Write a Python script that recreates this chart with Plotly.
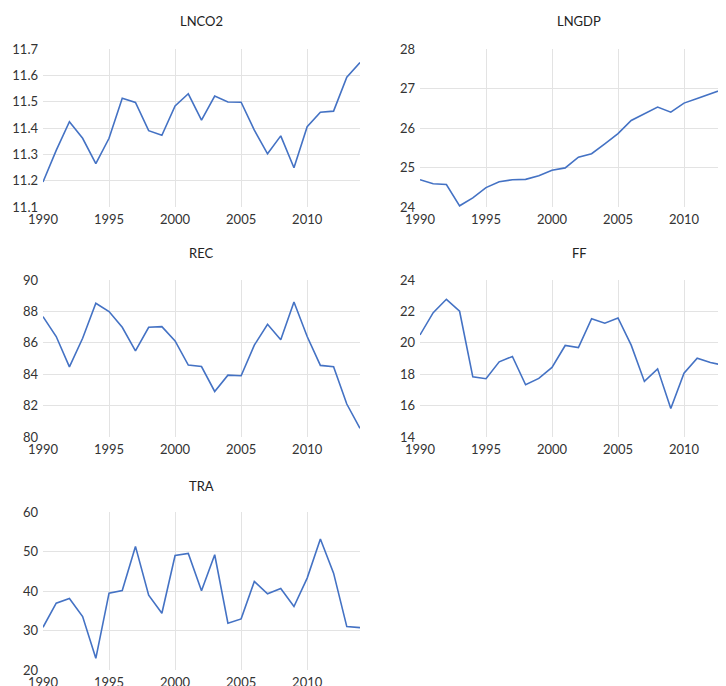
import plotly.graph_objects as go

years = list(range(1990, 2015))

lnco2 = [11.195, 11.315, 11.424, 11.361, 11.265, 11.361, 11.513, 11.497, 11.390, 11.372,
         11.484, 11.530, 11.430, 11.521, 11.499, 11.498, 11.392, 11.302, 11.370, 11.249,
         11.405, 11.460, 11.464, 11.593, 11.649]
lngdp = [24.69, 24.59, 24.57, 24.03, 24.23, 24.49, 24.64, 24.69, 24.70, 24.79,
         24.93, 24.99, 25.26, 25.35, 25.60, 25.86, 26.19, 26.35, 26.53, 26.40,
         26.63, 26.75, 26.86, 26.98, 27.10]
rec = [87.67, 86.40, 84.47, 86.29, 88.52, 87.99, 86.99, 85.49, 86.99, 87.03,
       86.12, 84.58, 84.49, 82.90, 83.94, 83.90, 85.85, 87.18, 86.19, 88.60,
       86.40, 84.56, 84.47, 82.10, 80.55]
ff = [20.50, 21.92, 22.77, 22.01, 17.83, 17.71, 18.79, 19.13, 17.33, 17.73,
      18.43, 19.83, 19.70, 21.54, 21.25, 21.58, 19.85, 17.54, 18.34, 15.82,
      18.07, 19.02, 18.75, 18.56, 18.60]
tra = [30.82, 36.91, 38.10, 33.53, 22.96, 39.45, 40.13, 51.29, 38.94, 34.38,
       49.00, 49.51, 40.04, 49.18, 31.84, 32.94, 42.41, 39.28, 40.63, 36.07,
       43.26, 53.15, 44.52, 30.99, 30.74]

titles = ["LNCO2", "LNGDP", "REC", "FF", "TRA"]
series = [lnco2, lngdp, rec, ff, tra]
y_ranges = [(11.1, 11.7, 0.1), (24, 28, 1), (80, 90, 2), (14, 24, 2), (20, 60, 10)]
x_ticks = [1990, 1995, 2000, 2005, 2010]

# page body has an 8px default margin; lay out in page pixels minus that offset
OFF = 8
W, H = 726 - OFF, 686 - OFF


def fx(px):
    return (px - OFF) / W


def fy(py):
    return 1 - (py - OFF) / H


left_x = (fx(43), fx(360))
right_x = (fx(420), 1.0)
rows_y = [(fy(207), fy(49)), (fy(437), fy(280)), (fy(670), fy(512))]
domains = [(left_x, rows_y[0]), (right_x, rows_y[0]), (left_x, rows_y[1]),
           (right_x, rows_y[1]), (left_x, rows_y[2])]
x_end = [2014, 1990 + (726 - 420) / 13.2, 2014, 1990 + (726 - 420) / 13.2, 2014]
title_pos = [(201, 21), (579, 21), (201, 253), (579, 253), (201, 486)]

FONT = "Lato"
LINE = "#4472C4"
GRID = "#E3E3E3"
TXT = "#333333"

fig = go.Figure()
layout = dict(
    template="none",
    width=W, height=H,
    margin=dict(l=0, r=0, t=0, b=0, pad=0),
    paper_bgcolor="white", plot_bgcolor="white",
    showlegend=False,
    font=dict(family=FONT, size=12, color=TXT),
    annotations=[],
)

for i, (name, vals) in enumerate(zip(titles, series)):
    n = i + 1
    xa = "x" if n == 1 else f"x{n}"
    ya = "y" if n == 1 else f"y{n}"
    fig.add_trace(go.Scatter(x=years, y=vals, mode="lines", xaxis=xa, yaxis=ya,
                             line=dict(color=LINE, width=1.6), cliponaxis=True))
    (xd, yd) = domains[i]
    lo, hi, step = y_ranges[i]
    nt = int(round((hi - lo) / step))
    yt = [round(lo + k * step, 2) for k in range(nt + 1)]
    ytxt = [f"{v:.1f}" if step < 1 else f"{int(v)}" for v in yt]
    layout["xaxis" if n == 1 else f"xaxis{n}"] = dict(
        domain=list(xd), anchor=ya, range=[1990, x_end[i]], automargin=False,
        tickmode="array", tickvals=x_ticks, ticktext=[str(t) for t in x_ticks],
        showgrid=True, gridcolor=GRID, gridwidth=1, zeroline=False, showline=False,
        ticks="", ticklabelstandoff=3, tickfont=dict(family=FONT, size=13, color=TXT),
        fixedrange=True,
    )
    layout["yaxis" if n == 1 else f"yaxis{n}"] = dict(
        domain=list(yd), anchor=xa, range=[lo, hi], automargin=False,
        tickmode="array", tickvals=yt, ticktext=ytxt,
        showgrid=True, gridcolor=GRID, gridwidth=1, zeroline=False, showline=False,
        ticks="", ticklabelstandoff=4, tickfont=dict(family=FONT, size=13, color=TXT),
        fixedrange=True,
    )
    tx, ty = title_pos[i]
    layout["annotations"].append(dict(
        text=name, x=fx(tx), y=fy(ty), xref="paper", yref="paper",
        xanchor="center", yanchor="middle", showarrow=False,
        font=dict(family=FONT, size=13, color="#222222"),
    ))

fig.update_layout(**layout)
fig.write_html("out.html")
